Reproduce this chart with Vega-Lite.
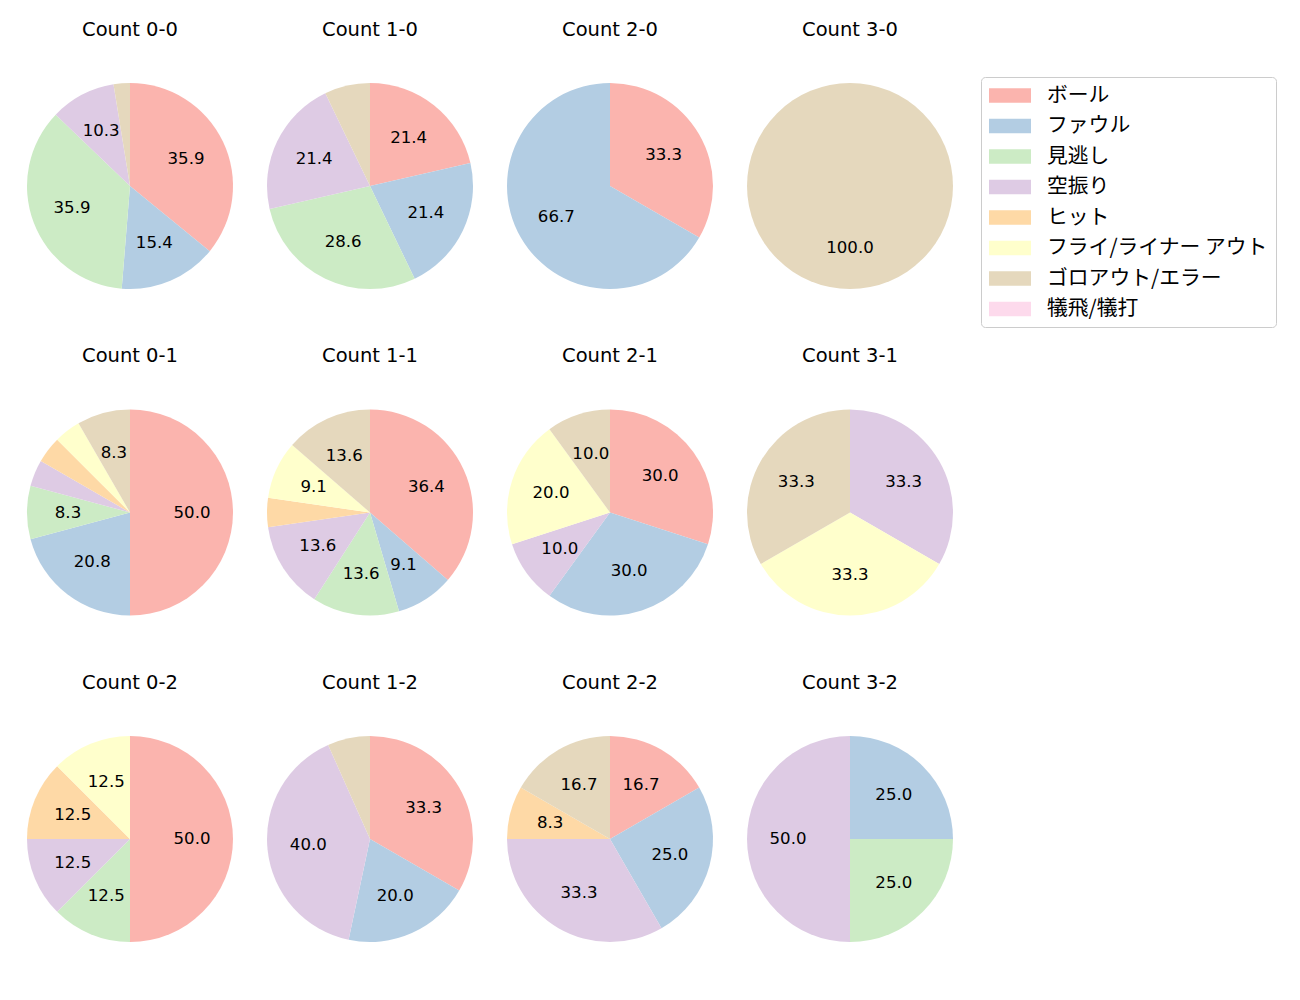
{
  "$schema": "https://vega.github.io/schema/vega-lite/v6.json",
  "padding": {"left": 27, "top": 19, "right": 5, "bottom": 5},
  "data": {"values": [
    {"facet": "Count 0-0", "cat": "ボール", "k": 0, "value": 14, "label": "35.9"},
    {"facet": "Count 0-0", "cat": "ファウル", "k": 1, "value": 6, "label": "15.4"},
    {"facet": "Count 0-0", "cat": "見逃し", "k": 2, "value": 14, "label": "35.9"},
    {"facet": "Count 0-0", "cat": "空振り", "k": 3, "value": 4, "label": "10.3"},
    {"facet": "Count 0-0", "cat": "ゴロアウト/エラー", "k": 6, "value": 1, "label": ""},
    {"facet": "Count 1-0", "cat": "ボール", "k": 0, "value": 3, "label": "21.4"},
    {"facet": "Count 1-0", "cat": "ファウル", "k": 1, "value": 3, "label": "21.4"},
    {"facet": "Count 1-0", "cat": "見逃し", "k": 2, "value": 4, "label": "28.6"},
    {"facet": "Count 1-0", "cat": "空振り", "k": 3, "value": 3, "label": "21.4"},
    {"facet": "Count 1-0", "cat": "ゴロアウト/エラー", "k": 6, "value": 1, "label": ""},
    {"facet": "Count 2-0", "cat": "ボール", "k": 0, "value": 1, "label": "33.3"},
    {"facet": "Count 2-0", "cat": "ファウル", "k": 1, "value": 2, "label": "66.7"},
    {"facet": "Count 3-0", "cat": "ゴロアウト/エラー", "k": 6, "value": 1, "label": "100.0"},
    {"facet": "Count 0-1", "cat": "ボール", "k": 0, "value": 12, "label": "50.0"},
    {"facet": "Count 0-1", "cat": "ファウル", "k": 1, "value": 5, "label": "20.8"},
    {"facet": "Count 0-1", "cat": "見逃し", "k": 2, "value": 2, "label": "8.3"},
    {"facet": "Count 0-1", "cat": "空振り", "k": 3, "value": 1, "label": ""},
    {"facet": "Count 0-1", "cat": "ヒット", "k": 4, "value": 1, "label": ""},
    {"facet": "Count 0-1", "cat": "フライ/ライナー アウト", "k": 5, "value": 1, "label": ""},
    {"facet": "Count 0-1", "cat": "ゴロアウト/エラー", "k": 6, "value": 2, "label": "8.3"},
    {"facet": "Count 1-1", "cat": "ボール", "k": 0, "value": 8, "label": "36.4"},
    {"facet": "Count 1-1", "cat": "ファウル", "k": 1, "value": 2, "label": "9.1"},
    {"facet": "Count 1-1", "cat": "見逃し", "k": 2, "value": 3, "label": "13.6"},
    {"facet": "Count 1-1", "cat": "空振り", "k": 3, "value": 3, "label": "13.6"},
    {"facet": "Count 1-1", "cat": "ヒット", "k": 4, "value": 1, "label": ""},
    {"facet": "Count 1-1", "cat": "フライ/ライナー アウト", "k": 5, "value": 2, "label": "9.1"},
    {"facet": "Count 1-1", "cat": "ゴロアウト/エラー", "k": 6, "value": 3, "label": "13.6"},
    {"facet": "Count 2-1", "cat": "ボール", "k": 0, "value": 3, "label": "30.0"},
    {"facet": "Count 2-1", "cat": "ファウル", "k": 1, "value": 3, "label": "30.0"},
    {"facet": "Count 2-1", "cat": "空振り", "k": 3, "value": 1, "label": "10.0"},
    {"facet": "Count 2-1", "cat": "フライ/ライナー アウト", "k": 5, "value": 2, "label": "20.0"},
    {"facet": "Count 2-1", "cat": "ゴロアウト/エラー", "k": 6, "value": 1, "label": "10.0"},
    {"facet": "Count 3-1", "cat": "空振り", "k": 3, "value": 1, "label": "33.3"},
    {"facet": "Count 3-1", "cat": "フライ/ライナー アウト", "k": 5, "value": 1, "label": "33.3"},
    {"facet": "Count 3-1", "cat": "ゴロアウト/エラー", "k": 6, "value": 1, "label": "33.3"},
    {"facet": "Count 0-2", "cat": "ボール", "k": 0, "value": 4, "label": "50.0"},
    {"facet": "Count 0-2", "cat": "見逃し", "k": 2, "value": 1, "label": "12.5"},
    {"facet": "Count 0-2", "cat": "空振り", "k": 3, "value": 1, "label": "12.5"},
    {"facet": "Count 0-2", "cat": "ヒット", "k": 4, "value": 1, "label": "12.5"},
    {"facet": "Count 0-2", "cat": "フライ/ライナー アウト", "k": 5, "value": 1, "label": "12.5"},
    {"facet": "Count 1-2", "cat": "ボール", "k": 0, "value": 5, "label": "33.3"},
    {"facet": "Count 1-2", "cat": "ファウル", "k": 1, "value": 3, "label": "20.0"},
    {"facet": "Count 1-2", "cat": "空振り", "k": 3, "value": 6, "label": "40.0"},
    {"facet": "Count 1-2", "cat": "ゴロアウト/エラー", "k": 6, "value": 1, "label": ""},
    {"facet": "Count 2-2", "cat": "ボール", "k": 0, "value": 2, "label": "16.7"},
    {"facet": "Count 2-2", "cat": "ファウル", "k": 1, "value": 3, "label": "25.0"},
    {"facet": "Count 2-2", "cat": "空振り", "k": 3, "value": 4, "label": "33.3"},
    {"facet": "Count 2-2", "cat": "ヒット", "k": 4, "value": 1, "label": "8.3"},
    {"facet": "Count 2-2", "cat": "ゴロアウト/エラー", "k": 6, "value": 2, "label": "16.7"},
    {"facet": "Count 3-2", "cat": "ファウル", "k": 1, "value": 1, "label": "25.0"},
    {"facet": "Count 3-2", "cat": "見逃し", "k": 2, "value": 1, "label": "25.0"},
    {"facet": "Count 3-2", "cat": "空振り", "k": 3, "value": 2, "label": "50.0"}
  ]},
  "facet": {
    "field": "facet",
    "type": "nominal",
    "sort": ["Count 0-0", "Count 1-0", "Count 2-0", "Count 3-0", "Count 0-1", "Count 1-1", "Count 2-1", "Count 3-1", "Count 0-2", "Count 1-2", "Count 2-2", "Count 3-2"],
    "header": {"title": null, "labelFontSize": 19.5, "labelPadding": 43, "labelColor": "#000000", "labelFont": "DejaVu Sans"}
  },
  "columns": 4,
  "spacing": {"row": 56.5, "column": 34},
  "spec": {
    "width": 206,
    "height": 206,
    "layer": [
      {
        "mark": {"type": "arc", "outerRadius": 103},
        "encoding": {
          "theta": {"field": "value", "type": "quantitative", "stack": true},
          "order": {"field": "k", "type": "quantitative", "sort": "ascending"},
          "color": {
            "field": "cat",
            "type": "nominal",
            "scale": {
              "domain": ["ボール", "ファウル", "見逃し", "空振り", "ヒット", "フライ/ライナー アウト", "ゴロアウト/エラー", "犠飛/犠打"],
              "range": ["#fbb4ae", "#b3cde3", "#ccebc5", "#decbe4", "#fed9a6", "#ffffcc", "#e5d8bd", "#fddaec"]
            },
            "legend": {
              "title": null,
              "orient": "none",
              "legendX": 954,
              "legendY": -6,
              "values": ["ボール", "ファウル", "見逃し", "空振り", "ヒット", "フライ/ライナー アウト", "ゴロアウト/エラー", "犠飛/犠打"]
            }
          }
        }
      },
      {
        "mark": {"type": "text", "radius": 62, "fontSize": 16.6, "font": "DejaVu Sans", "color": "#000000"},
        "encoding": {
          "theta": {"field": "value", "type": "quantitative", "stack": true},
          "order": {"field": "k", "type": "quantitative", "sort": "ascending"},
          "text": {"field": "label", "type": "nominal"}
        }
      }
    ]
  },
  "resolve": {"scale": {"theta": "independent"}},
  "config": {
    "view": {"stroke": null},
    "font": "DejaVu Sans",
    "legend": {
      "padding": 8,
      "strokeColor": "#cccccc",
      "cornerRadius": 4,
      "fillColor": "#ffffff",
      "labelFontSize": 20.8,
      "labelFont": "Noto Sans CJK JP",
      "labelColor": "#000000",
      "symbolType": "M-1,-0.7H3V0.7H-1Z",
      "symbolSize": 441,
      "symbolStrokeWidth": 0,
      "symbolOpacity": 1,
      "rowPadding": 8.5,
      "labelOffset": 37,
      "labelLimit": 400
    }
  }
}
